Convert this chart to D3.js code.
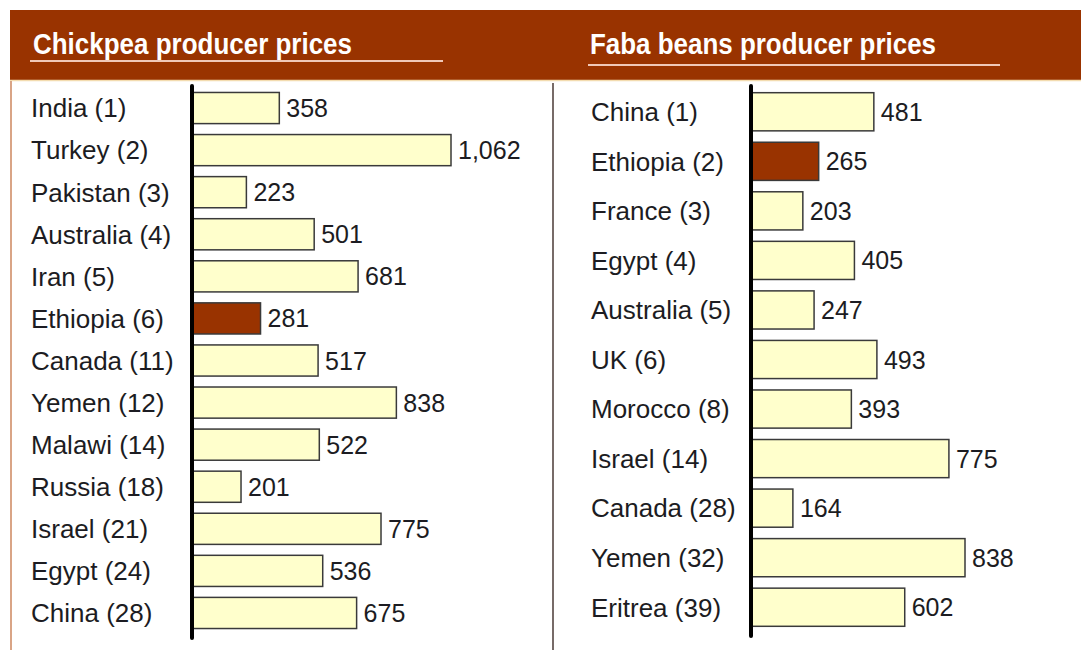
<!DOCTYPE html>
<meta charset="utf-8">
<head>
<style>
  body { margin: 0; background: #fff; }
  svg text { font-family: "Liberation Sans", Arial, sans-serif; }
  .lbl { fill: #1c1c22; }
  .axis path { stroke: #000; stroke-width: 4; stroke-linecap: round; fill: none; }
</style>
</head>
<body>
<script src="https://cdnjs.cloudflare.com/ajax/libs/d3/7.8.5/d3.min.js"></script>
<script>

// Chickpea producer prices
const chickCountries = ["India (1)", "Turkey (2)", "Pakistan (3)", "Australia (4)", "Iran (5)",
  "Ethiopia (6)", "Canada (11)", "Yemen (12)", "Malawi (14)", "Russia (18)", "Israel (21)",
  "Egypt (24)", "China (28)"];
const chickValues = [358, 1062, 223, 501, 681, 281, 517, 838, 522, 201, 775, 536, 675];

// Faba beans producer prices
const fabaCountries = ["China (1)", "Ethiopia (2)", "France (3)", "Egypt (4)", "Australia (5)",
  "UK (6)", "Morocco (8)", "Israel (14)", "Canada (28)", "Yemen (32)", "Eritrea (39)"];
const fabaValues = [481, 265, 203, 405, 247, 493, 393, 775, 164, 838, 602];

const highlight = "Ethiopia";
const W = 1081, H = 650;

const svg = d3.select("body").append("svg")
  .attr("width", W)
  .attr("height", H);

// header band
svg.append("rect")
  .attr("x", 10).attr("y", 10)
  .attr("width", W - 10).attr("height", 70)
  .attr("fill", "#993300");
svg.append("line")
  .attr("x1", 10).attr("x2", W).attr("y1", 80.5).attr("y2", 80.5)
  .attr("stroke", "#f3dcb0").attr("stroke-width", 1.5);

// left border + divider
svg.append("line")
  .attr("x1", 11).attr("x2", 11).attr("y1", 81).attr("y2", H)
  .attr("stroke", "#d9a486").attr("stroke-width", 2);
svg.append("line")
  .attr("x1", 553).attr("x2", 553).attr("y1", 83).attr("y2", H)
  .attr("stroke", "#4a3a36").attr("stroke-width", 1.5);

function panel(cfg) {
  const { names, values, title, titleX, titleLen, lineX1, lineX2, lineY,
          axisX, xMax, xMaxPx, yRange, pad, labelX, fontSize } = cfg;

  svg.append("text")
    .attr("x", titleX).attr("y", 54)
    .attr("fill", "#fff")
    .attr("font-weight", "bold")
    .attr("font-size", 29)
    .attr("textLength", titleLen)
    .attr("lengthAdjust", "spacingAndGlyphs")
    .text(title);
  svg.append("line")
    .attr("x1", lineX1).attr("x2", lineX2).attr("y1", lineY).attr("y2", lineY)
    .attr("stroke", "#f0c8b8").attr("stroke-width", 2);

  const x = d3.scaleLinear().domain([0, xMax]).range([axisX, xMaxPx]);
  const y = d3.scaleBand().domain(names).range(yRange)
    .paddingInner(pad).paddingOuter(pad / 2);

  const g = svg.append("g");

  g.selectAll("rect.bar")
    .data(names)
    .join("rect")
    .attr("class", "bar")
    .attr("x", x(0))
    .attr("y", d => y(d))
    .attr("width", (d, i) => x(values[i]) - x(0))
    .attr("height", y.bandwidth())
    .attr("fill", d => d.startsWith(highlight) ? "#993300" : "#ffffcc")
    .attr("stroke", "#3a3a3a")
    .attr("stroke-width", 1.5);

  g.selectAll("text.val")
    .data(names)
    .join("text")
    .attr("class", "lbl val")
    .attr("x", (d, i) => x(values[i]) + 7)
    .attr("y", d => y(d) + y.bandwidth() / 2)
    .attr("dy", "0.36em")
    .attr("font-size", 25)
    .text((d, i) => d3.format(",")(values[i]));

  g.selectAll("text.name")
    .data(names)
    .join("text")
    .attr("class", "lbl name")
    .attr("x", labelX)
    .attr("y", d => y(d) + y.bandwidth() / 2)
    .attr("dy", "0.36em")
    .attr("font-size", fontSize)
    .text(d => d);

  g.append("g")
    .attr("class", "axis")
    .attr("transform", `translate(${axisX},0)`)
    .call(d3.axisLeft(y).tickSize(0).tickSizeOuter(0).tickFormat(""))
    .select(".domain")
    .attr("d", `M0,${yRange[0] - 1}V${yRange[1] + 4}`);
}

panel({
  names: chickCountries, values: chickValues,
  title: "Chickpea producer prices", titleX: 33, titleLen: 319,
  lineX1: 30, lineX2: 443, lineY: 61,
  axisX: 192, xMax: 1062, xMaxPx: 451,
  yRange: [87, 634], pad: 0.26, labelX: 31, fontSize: 26
});

panel({
  names: fabaCountries, values: fabaValues,
  title: "Faba beans producer prices", titleX: 590, titleLen: 346,
  lineX1: 588, lineX2: 1000, lineY: 65,
  axisX: 751, xMax: 838, xMaxPx: 965,
  yRange: [87, 632], pad: 0.23, labelX: 591, fontSize: 26
});

</script>
</body>
